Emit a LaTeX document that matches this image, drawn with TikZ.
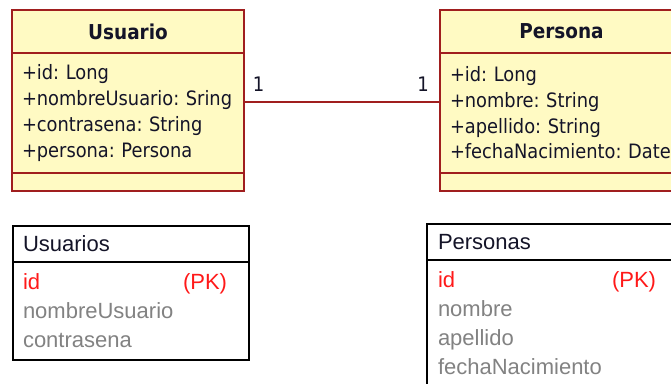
\documentclass[tikz,border=0pt]{standalone}
\usepackage{fontspec}
\setmainfont{Liberation Sans}
\newfontfamily\umlfont{DejaVu Sans Condensed}
\usepackage{tikz}
\usetikzlibrary{positioning}
\definecolor{umlfill}{RGB}{255,250,195}
\definecolor{umlline}{RGB}{160,30,30}
\definecolor{pkred}{RGB}{255,25,25}
\definecolor{colgray}{RGB}{130,130,130}
\definecolor{titleink}{RGB}{20,20,40}
\tikzstyle{classpart} = [rectangle, draw=umlline, fill=umlfill, line width=1.4pt, outer sep=0pt, inner xsep=10pt, inner ysep=0pt, text=titleink, font=\umlfont\fontsize{19.8}{25.7}\selectfont]
\tikzstyle{tablepart} = [rectangle, draw=black, fill=white, line width=1.4pt, outer sep=0pt, inner xsep=10pt, inner ysep=0pt, align=left, font=\fontsize{22}{29}\selectfont]
\tikzstyle{assoc} = [line width=1.5pt, draw=umlline]
\tikzstyle{mult} = [inner sep=0pt, text=titleink, font=\umlfont\fontsize{20}{24}\selectfont]

\begin{document}
\begin{tikzpicture}[x=1pt, y=-1pt]
\useasboundingbox (0,0) rectangle (671,383);
\node (usuarioT) [classpart, anchor=north west, minimum width=232pt, minimum height=43pt, font=\umlfont\bfseries\fontsize{20.5}{24}\selectfont] at (12,10) {Usuario};
\node (usuarioA) [classpart, below=0pt of usuarioT, text width=212pt, minimum height=120pt, align=left] {+id:~Long\\+nombreUsuario:~Sring\\+contrasena:~String\\+persona:~Persona};
\node (usuarioO) [classpart, below=0pt of usuarioA, minimum width=232pt, minimum height=18pt] {};

\node (personaT) [classpart, anchor=north west, minimum width=243pt, minimum height=43pt, font=\umlfont\bfseries\fontsize{20.5}{24}\selectfont] at (440,10) {Persona};
\node (personaA) [classpart, below=0pt of personaT, text width=223pt, minimum height=120pt, align=left] {+id:~Long\\+nombre:~String\\+apellido:~String\\+fechaNacimiento:~Date};
\node (personaO) [classpart, below=0pt of personaA, minimum width=243pt, minimum height=18pt] {};

\node (usuariosT) [tablepart, anchor=north west, text width=216pt, minimum height=36pt, text=titleink] at (13,226) {Usuarios};
\node (usuariosC) [tablepart, below=0pt of usuariosT, text width=216pt, minimum height=98pt] {\textcolor{pkred}{\makebox[160pt][l]{id}(PK)}\\\textcolor{colgray}{nombreUsuario}\\\textcolor{colgray}{contrasena}};

\node (personasT) [tablepart, anchor=north west, text width=232pt, minimum height=36pt, text=titleink, inner xsep=11pt] at (427,224) {Personas};
\node (personasC) [tablepart, below=0pt of personasT, text width=232pt, minimum height=127pt, inner xsep=11pt] {\textcolor{pkred}{\makebox[174pt][l]{id}(PK)}\\\textcolor{colgray}{nombre}\\\textcolor{colgray}{apellido}\\\textcolor{colgray}{fechaNacimiento}};

\draw [assoc] ([yshift=11pt]usuarioA.east) -- node[mult, pos=0, anchor=south west, xshift=8pt, yshift=10pt] {1} node[mult, pos=1, anchor=south east, xshift=-10.5pt, yshift=10pt] {1} ([yshift=11pt]personaA.west);
\end{tikzpicture}
\end{document}
